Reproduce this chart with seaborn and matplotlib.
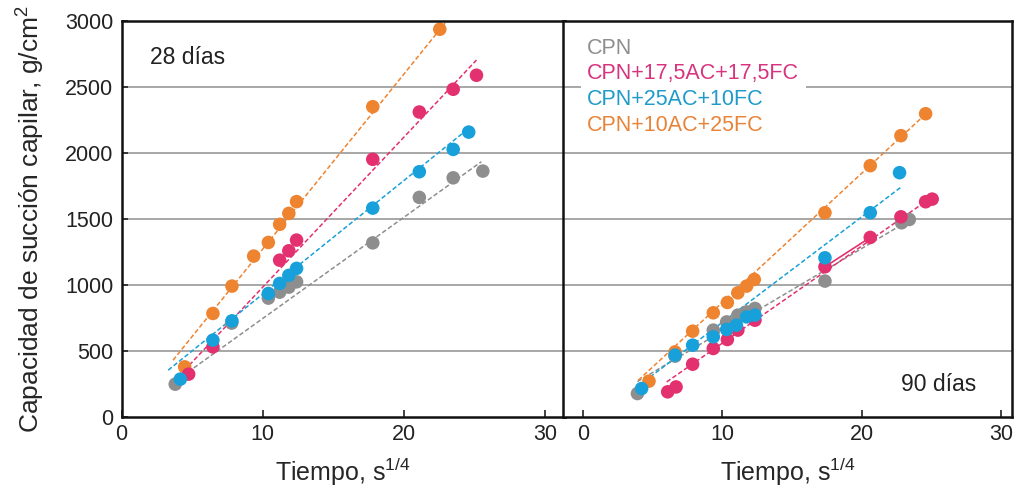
import matplotlib
matplotlib.use("Agg")
import matplotlib.pyplot as plt
import seaborn as sns
import pandas as pd

# ── series labels and colours ──
labels = ["CPN", "CPN+17,5AC+17,5FC", "CPN+25AC+10FC", "CPN+10AC+25FC"]
colors = ["#8e8e8e", "#e3306f", "#17a0d9", "#ee8330"]

# ── 28 días ──
gray28_x = [3.8, 7.8, 10.4, 11.2, 11.85, 12.4, 17.8, 21.1, 23.5, 25.6]
gray28_y = [250, 712, 901, 946, 984, 1024, 1319, 1663, 1811, 1862]
red28_x = [4.75, 6.47, 11.2, 11.85, 12.4, 17.8, 21.1, 23.5, 25.15]
red28_y = [326, 532, 1188, 1259, 1340, 1951, 2309, 2481, 2587]
blue28_x = [4.16, 6.47, 7.82, 10.4, 11.2, 11.85, 12.4, 17.8, 21.1, 23.5, 24.6]
blue28_y = [288, 583, 729, 936, 1012, 1073, 1126, 1582, 1857, 2026, 2157]
orange28_x = [4.47, 6.47, 7.82, 9.36, 10.4, 11.2, 11.85, 12.4, 17.8, 22.55]
orange28_y = [381, 785, 992, 1219, 1322, 1459, 1542, 1631, 2349, 2935]

# fitted trend lines (start / end)
fit28_x = [[3.9, 25.5], [4.8, 25.15], [3.3, 24.6], [3.64, 23.0]]
fit28_y = [[280, 1933], [394, 2702], [356, 2185], [431, 2992]]

# ── 90 días ──
gray90_x = [3.9, 6.6, 9.34, 10.3, 11.1, 11.73, 12.33, 17.35, 22.85, 23.4]
gray90_y = [179, 462, 659, 721, 772, 797, 823, 1030, 1471, 1496]
red90_x = [6.07, 6.67, 7.86, 9.34, 10.35, 11.1, 12.33, 17.35, 20.6, 22.8, 24.57, 25.04]
red90_y = [192, 229, 401, 520, 588, 659, 734, 1138, 1360, 1516, 1630, 1650]
blue90_x = [4.2, 6.6, 7.86, 9.34, 10.3, 11.0, 11.73, 12.33, 17.35, 20.6, 22.7]
blue90_y = [217, 470, 545, 608, 664, 696, 759, 772, 1206, 1547, 1850]
orange90_x = [4.73, 6.6, 7.86, 9.34, 10.35, 11.1, 11.73, 12.28, 17.35, 20.6, 22.8, 24.57]
orange90_y = [273, 494, 651, 790, 868, 941, 992, 1042, 1547, 1903, 2130, 2296]

fit90_x = [[3.9, 23.4], [6.0, 24.9], [4.0, 22.85], [3.97, 24.75]]
fit90_y = [[270, 1490], [267, 1656], [240, 1744], [280, 2311]]

y_ticks = [0, 500, 1000, 1500, 2000, 2500, 3000]
x_ticks = [0, 10, 20, 30]


def make_frame(xs, ys):
    rows = []
    for lab, x, y in zip(labels, xs, ys):
        for xi, yi in zip(x, y):
            rows.append({"serie": lab, "t": xi, "cap": yi})
    return pd.DataFrame(rows)


df28 = make_frame([gray28_x, red28_x, blue28_x, orange28_x],
                  [gray28_y, red28_y, blue28_y, orange28_y])
df90 = make_frame([gray90_x, red90_x, blue90_x, orange90_x],
                  [gray90_y, red90_y, blue90_y, orange90_y])

sns.set_theme(style="white")
plt.rcParams["font.family"] = ["Liberation Sans", "DejaVu Sans"]
plt.rcParams["mathtext.fontset"] = "custom"
plt.rcParams["mathtext.rm"] = "Liberation Sans"
plt.rcParams["mathtext.it"] = "Liberation Sans:italic"

fig = plt.figure(figsize=(10.22, 4.92), dpi=100)
ax1 = fig.add_axes([0.119, 0.152, 0.4335, 0.806])
ax2 = fig.add_axes([0.551, 0.152, 0.439, 0.806])

palette = dict(zip(labels, colors))
# draw order: gray, orange, red, blue
hue_order = [labels[0], labels[3], labels[1], labels[2]]

for ax, df, fx, fy, xlim in [
    (ax1, df28, fit28_x, fit28_y, (0, 31.4)),
    (ax2, df90, fit90_x, fit90_y, (-1.43, 30.75)),
]:
    for yv in y_ticks[1:-1]:
        ax.axhline(yv, color="#8f8f8f", lw=1.1, zorder=0)
    for i, lab in enumerate(labels):
        ax.plot(fx[i], fy[i], ls=(0, (3.0, 1.6)), lw=1.1, color=colors[i], zorder=1)
    for lab in hue_order:
        sub = df[df["serie"] == lab]
        sns.scatterplot(data=sub, x="t", y="cap", color=palette[lab], s=95,
                        edgecolor="none", linewidth=0, ax=ax, zorder=2,
                        label=lab, legend=False)
    ax.set_xlim(*xlim)
    ax.set_ylim(0, 3000)
    ax.set_xticks(x_ticks)
    ax.set_xlabel(r"Tiempo, s$^{\mathregular{1/4}}$", fontsize=18, labelpad=8)
    ax.tick_params(axis="x", direction="in", length=5, width=1.2,
                   labelsize=15.5, pad=5, colors="#222222", bottom=True)
    for sp in ax.spines.values():
        sp.set_color("#111111")
        sp.set_linewidth(1.8)

# solid segment between two red points at 90 días
ax2.plot(red90_x[7:9], red90_y[7:9], color=colors[1], lw=1.2, zorder=1)

ax1.set_yticks(y_ticks)
ax1.tick_params(axis="y", direction="in", length=4, width=1.2,
                labelsize=15.5, pad=6, colors="#222222", left=True)
ax1.set_ylabel(r"Capacidad de succión capilar, g/cm$^{\mathregular{2}}$",
               fontsize=19, labelpad=13)
ax2.set_yticks(y_ticks)
ax2.tick_params(axis="y", left=False, labelleft=False)
ax2.set_ylabel("")

ax1.text(2.0, 2720, "28 días", fontsize=16.5, ha="left", va="center",
         color="#222222")
ax2.text(22.8, 250, "90 días", fontsize=16.5, ha="left", va="center",
         color="#222222")

handles = [plt.Line2D([], [], lw=0, marker=None) for _ in labels]
leg = ax2.legend(handles, labels, loc="upper left", bbox_to_anchor=(0.025, 0.99),
                 frameon=True, facecolor="white", edgecolor="none", framealpha=1,
                 fontsize=15.5, handlelength=0, handletextpad=0, labelspacing=0.22,
                 borderpad=0.3, borderaxespad=0.3)
for txt, c in zip(leg.get_texts(), ["#8e8e8e", "#d8337f", "#1e9bc9", "#e8843a"]):
    txt.set_color(c)

fig.savefig("out.png", dpi=100)
plt.close(fig)
